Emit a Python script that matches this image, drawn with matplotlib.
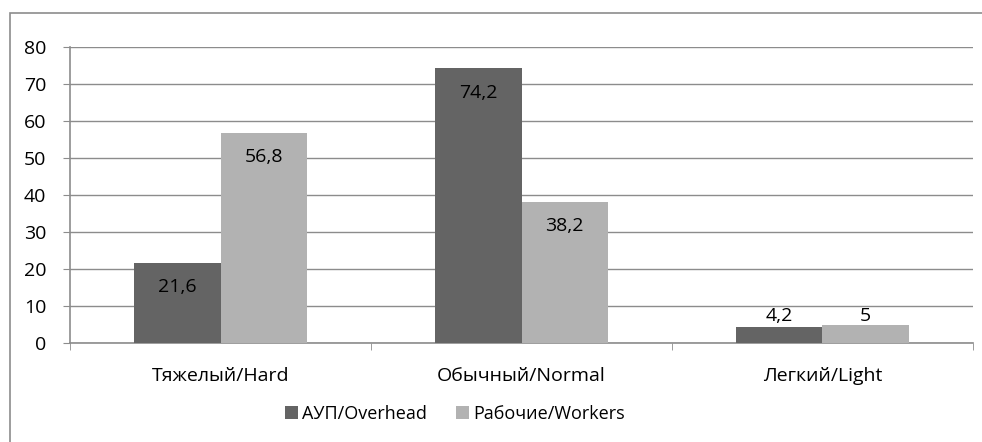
import matplotlib.pyplot as plt
import numpy as np
from matplotlib.patches import Rectangle

# data
categories = ['Тяжелый/Hard', 'Обычный/Normal', 'Легкий/Light']
overhead = [21.6, 74.2, 4.2]
workers = [56.8, 38.2, 5.0]
series_names = ['АУП/Overhead', 'Рабочие/Workers']

plt.rcParams['font.family'] = ['Open Sans', 'DejaVu Sans']
plt.rcParams['font.size'] = 14

dark = '#646464'
light = '#b2b2b2'
grid_col = '#8c8c8c'

fig = plt.figure(figsize=(9.82, 4.42), dpi=100)
# outer chart frame
fig.patches.append(Rectangle((10 / 982, -0.01), 1.0, (442 - 13) / 442 + 0.01,
                             transform=fig.transFigure, fill=False,
                             edgecolor='#8c8c8c', linewidth=1.2))

ax = fig.add_axes([70 / 982, (442 - 343) / 442, 903 / 982, 296 / 442])

x = np.arange(len(categories))
w = 0.286
b1 = ax.bar(x - w / 2, overhead, w, color=dark, label=series_names[0], zorder=3)
b2 = ax.bar(x + w / 2, workers, w, color=light, label=series_names[1], zorder=3)

# value labels, inside end, clamped for short bars
for bars, vals in [(b1, overhead), (b2, workers)]:
    for r, v in zip(bars, vals):
        y = max(v - 6.6, 7.3)
        ax.text(r.get_x() + r.get_width() / 2, y, str(v).replace('.0', '').replace('.', ','),
                ha='center', va='center', fontsize=14, color='black', zorder=4)

ax.set_xlim(-0.5, 2.5)
ax.set_ylim(0, 80)
ax.set_yticks(range(0, 81, 10))
ax.yaxis.grid(True, color=grid_col, linewidth=1)
ax.set_axisbelow(True)

ax.set_xticks(x)
ax.set_xticklabels(categories)
ax.tick_params(axis='x', length=0, pad=17)
ax.set_xticks([-0.5, 0.5, 1.5, 2.5], minor=True)
ax.tick_params(axis='x', which='minor', length=5, color=grid_col, direction='out')
ax.tick_params(axis='y', length=5, color=grid_col, pad=12)

for s in ['top', 'right']:
    ax.spines[s].set_visible(False)
for s in ['left', 'bottom']:
    ax.spines[s].set_color(grid_col)
    ax.spines[s].set_linewidth(1.2)

fig.legend(loc='center', bbox_to_anchor=(455 / 982, (442 - 414) / 442), ncol=2, frameon=False,
           handlelength=0.7, handleheight=0.7, handletextpad=0.25, columnspacing=1.6,
           fontsize=13)

fig.savefig('out.png', dpi=100)
